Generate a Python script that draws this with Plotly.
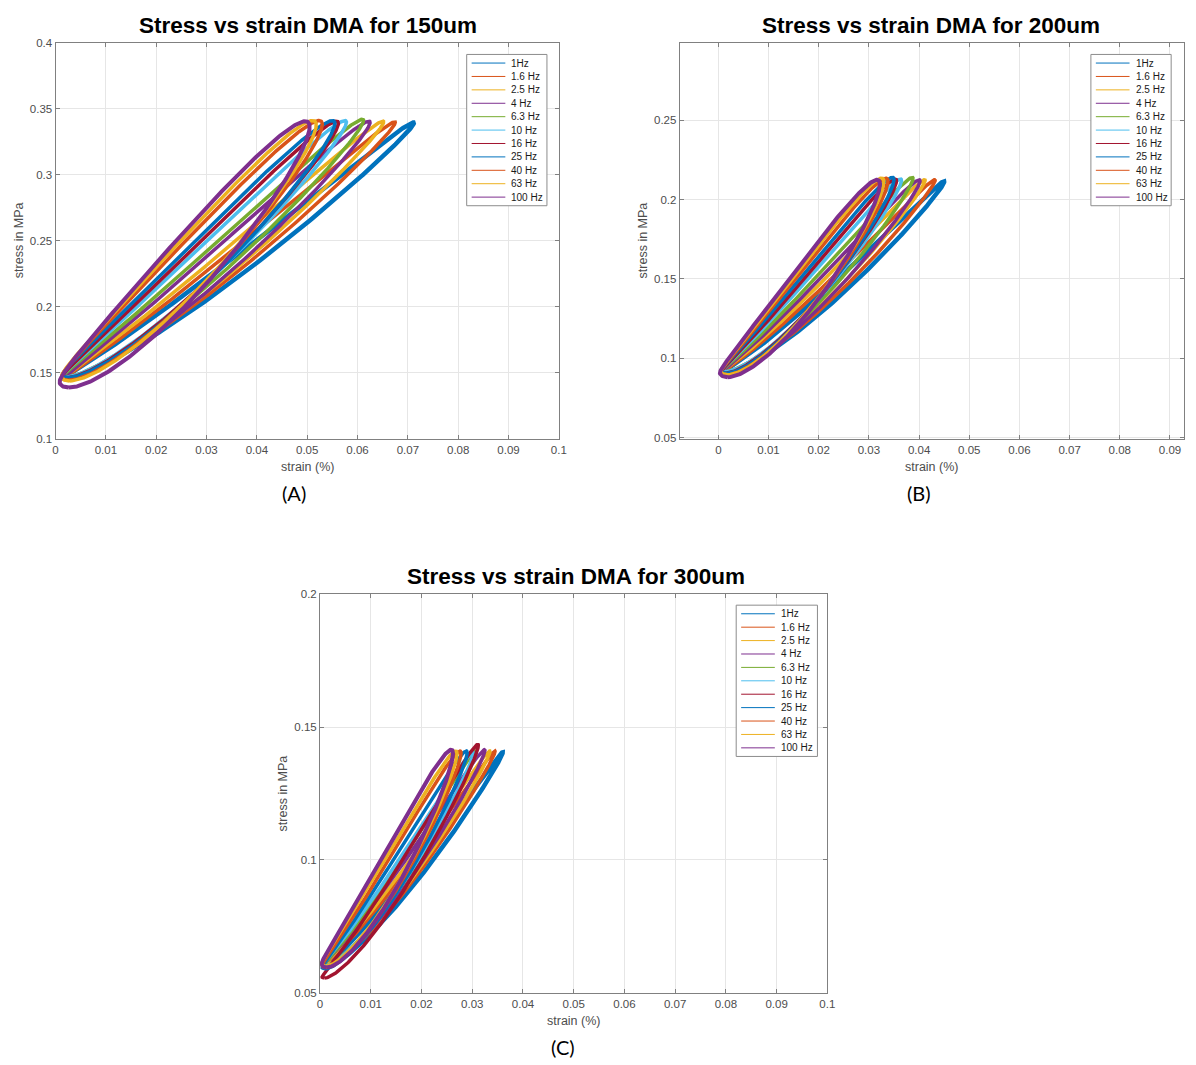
import numpy as np
import plotly.graph_objects as go

# ---------------- data ----------------
FREQS = ["1Hz", "1.6 Hz", "2.5 Hz", "4 Hz", "6.3 Hz", "10 Hz", "16 Hz",
         "25 Hz", "40 Hz", "63 Hz", "100 Hz"]
COLORS = ["#0072BD", "#D95319", "#EDB120", "#7E2F8E", "#77AC30", "#4DBEEE",
          "#A2142F", "#0072BD", "#D95319", "#EDB120", "#7E2F8E"]

# Panel A : 150 um  (loop extremes, phase lag in rad, branch curvature)
A_strain_min = [0.0015, 0.0020, 0.0020, 0.0018, 0.0016, 0.0015, 0.0015, 0.0014, 0.0012, 0.0012, 0.0008]
A_strain_max = [0.0712, 0.0675, 0.0652, 0.0625, 0.0612, 0.0578, 0.0562, 0.0555, 0.0530, 0.0518, 0.0505]
A_stress_min = [0.1455, 0.1460, 0.1465, 0.1450, 0.1470, 0.1470, 0.1465, 0.1465, 0.1445, 0.1440, 0.1390]
A_stress_max = [0.3395, 0.3400, 0.3405, 0.3405, 0.3420, 0.3410, 0.3405, 0.3410, 0.3410, 0.3410, 0.3405]
A_lag = [0.09, 0.10, 0.11, 0.14, 0.14, 0.16, 0.18, 0.21, 0.24, 0.26, 0.29]
A_curv = 0.85

# Panel B : 200 um
B_strain_min = [0.0008, 0.0010, 0.0010, 0.0008, 0.0008, 0.0008, 0.0006, 0.0006, 0.0005, 0.0005, 0.0003]
B_strain_max = [0.0450, 0.0432, 0.0412, 0.0402, 0.0388, 0.0365, 0.0355, 0.0350, 0.0338, 0.0330, 0.0322]
B_stress_min = [0.0905, 0.0910, 0.0915, 0.0905, 0.0915, 0.0915, 0.0905, 0.0905, 0.0895, 0.0895, 0.0880]
B_stress_max = [0.2115, 0.2125, 0.2125, 0.2125, 0.2140, 0.2130, 0.2130, 0.2140, 0.2135, 0.2135, 0.2125]
B_lag = [0.10, 0.11, 0.12, 0.15, 0.15, 0.17, 0.19, 0.22, 0.25, 0.27, 0.30]
B_curv = 0.80

# Panel C : 300 um
C_strain_min = [0.0008, 0.0008, 0.0008, 0.0006, 0.0006, 0.0005, 0.0004, 0.0004, 0.0004, 0.0003, 0.0003]
C_strain_max = [0.0360, 0.0345, 0.0335, 0.0325, 0.0308, 0.0302, 0.0312, 0.0290, 0.0278, 0.0270, 0.0262]
C_stress_min = [0.0595, 0.0600, 0.0605, 0.0600, 0.0600, 0.0600, 0.0555, 0.0590, 0.0595, 0.0600, 0.0595]
C_stress_max = [0.1405, 0.1410, 0.1410, 0.1415, 0.1410, 0.1405, 0.1435, 0.1410, 0.1410, 0.1410, 0.1415]
C_lag = [0.08, 0.09, 0.10, 0.12, 0.12, 0.14, 0.14, 0.18, 0.20, 0.22, 0.26]
C_curv = 0.80

# Tick values / labels
A_xticks = [0, 0.01, 0.02, 0.03, 0.04, 0.05, 0.06, 0.07, 0.08, 0.09, 0.1]
A_xlabels = ["0", "0.01", "0.02", "0.03", "0.04", "0.05", "0.06", "0.07", "0.08", "0.09", "0.1"]
A_yticks = [0.1, 0.15, 0.2, 0.25, 0.3, 0.35, 0.4]
A_ylabels = ["0.1", "0.15", "0.2", "0.25", "0.3", "0.35", "0.4"]
B_xticks = [0, 0.01, 0.02, 0.03, 0.04, 0.05, 0.06, 0.07, 0.08, 0.09]
B_xlabels = ["0", "0.01", "0.02", "0.03", "0.04", "0.05", "0.06", "0.07", "0.08", "0.09"]
B_yticks = [0.05, 0.1, 0.15, 0.2, 0.25]
B_ylabels = ["0.05", "0.1", "0.15", "0.2", "0.25"]
C_xticks = A_xticks
C_xlabels = A_xlabels
C_yticks = [0.05, 0.1, 0.15, 0.2]
C_ylabels = ["0.05", "0.1", "0.15", "0.2"]

TITLES = ["Stress vs strain DMA for 150um", "Stress vs strain DMA for 200um",
          "Stress vs strain DMA for 300um"]
CAPTIONS = ["(A)", "(B)", "(C)"]
XLABEL = "strain (%)"
YLABEL = "stress in MPa"

# ---------------- layout geometry (pixels) ----------------
W, H = 1196, 1065
PANELS = [
    dict(box=(53, 37, 561, 438), xr=[0, 0.1], yr=[0.1, 0.4], title_xy=(308, 20),
         cap_xy=(294, 493), xl_xy=(307, 466), yl_xy=(16, 237), leg=(468, 49, 549, 202)),
    dict(box=(683, 37, 1192, 438), xr=[-0.0077, 0.0928], yr=[0.049, 0.299], title_xy=(937, 20),
         cap_xy=(924, 493), xl_xy=(937, 466), yl_xy=(646, 237), leg=(1098, 49, 1179, 202)),
    dict(box=(320, 595, 832, 998), xr=[0, 0.1], yr=[0.05, 0.2], title_xy=(578, 577),
         cap_xy=(565, 1053), xl_xy=(576, 1027), yl_xy=(283, 796), leg=(740, 606, 822, 759)),
]
LINE_W = [4.5, 3.5, 3.5, 3.5, 3.5, 3.5, 3.5, 3.5, 3.5, 3.5, 4.0]


def px(x):
    return x / W


def py(y):
    return 1 - y / H


def loop(emin, emax, smin, smax, lag, curv, n=400):
    t = np.linspace(0, 2 * np.pi, n)
    stress = smin + (smax - smin) * (1 - np.cos(t)) / 2
    v = (1 - np.cos(t - lag)) / 2
    strain = emin + (emax - emin) * np.power(np.clip(v, 0, 1), curv)
    return strain, stress


DATA = [
    (A_strain_min, A_strain_max, A_stress_min, A_stress_max, A_lag, A_curv),
    (B_strain_min, B_strain_max, B_stress_min, B_stress_max, B_lag, B_curv),
    (C_strain_min, C_strain_max, C_stress_min, C_stress_max, C_lag, C_curv),
]
TICKS = [(A_xticks, A_xlabels, A_yticks, A_ylabels),
         (B_xticks, B_xlabels, B_yticks, B_ylabels),
         (C_xticks, C_xlabels, C_yticks, C_ylabels)]

fig = go.Figure()
shapes, annotations = [], []
TICKFONT = dict(family="Liberation Sans, Arial, sans-serif", size=11.5, color="#4d4d4d")
LABFONT = dict(family="Liberation Sans, Arial, sans-serif", size=12.5, color="#4d4d4d")

for k, (P, D, T) in enumerate(zip(PANELS, DATA, TICKS)):
    xa = "x" if k == 0 else f"x{k+1}"
    ya = "y" if k == 0 else f"y{k+1}"
    emin, emax, smin, smax, lag, curv = D
    for i, name in enumerate(FREQS):
        ex, sy = loop(emin[i], emax[i], smin[i], smax[i], lag[i], curv)
        fig.add_trace(go.Scatter(x=ex, y=sy, mode="lines", name=name,
                                 line=dict(color=COLORS[i], width=LINE_W[i]),
                                 xaxis=xa, yaxis=ya, showlegend=False,
                                 hoverinfo="skip"))
    x0, y0, x1, y1 = P["box"]
    common = dict(showgrid=True, gridcolor="#e6e6e6", gridwidth=1, zeroline=False,
                  showline=True, linecolor="#808080", linewidth=1, mirror="ticks",
                  ticks="inside", ticklen=4, tickcolor="#808080", tickfont=TICKFONT,
                  fixedrange=True)
    fig.layout[("xaxis" if k == 0 else f"xaxis{k+1}")] = dict(
        domain=[px(x0), px(x1)], range=P["xr"], tickvals=T[0], ticktext=T[1],
        anchor=ya, **common)
    fig.layout[("yaxis" if k == 0 else f"yaxis{k+1}")] = dict(
        domain=[py(y1), py(y0)], range=P["yr"], tickvals=T[2], ticktext=T[3],
        anchor=xa, **common)

    # texts
    tx, ty = P["title_xy"]
    annotations.append(dict(text=f"<b>{TITLES[k]}</b>", x=px(tx), y=py(ty), xref="paper",
                            yref="paper", showarrow=False, xanchor="center", yanchor="middle",
                            font=dict(family="Liberation Sans, Arial, sans-serif", size=22.5,
                                      color="#000000")))
    cx, cy = P["cap_xy"]
    annotations.append(dict(text=CAPTIONS[k], x=px(cx), y=py(cy), xref="paper", yref="paper",
                            showarrow=False, xanchor="center", yanchor="middle",
                            font=dict(family="Lato, Carlito, sans-serif", size=20, color="#000000")))
    lx, ly = P["xl_xy"]
    annotations.append(dict(text=XLABEL, x=px(lx), y=py(ly), xref="paper", yref="paper",
                            showarrow=False, xanchor="center", yanchor="middle", font=LABFONT))
    vx, vy = P["yl_xy"]
    annotations.append(dict(text=YLABEL, x=px(vx), y=py(vy), xref="paper", yref="paper",
                            showarrow=False, xanchor="center", yanchor="middle", textangle=-90,
                            font=LABFONT))

    # legend box (MATLAB style)
    bx0, by0, bx1, by1 = P["leg"]
    shapes.append(dict(type="rect", xref="paper", yref="paper", x0=px(bx0), x1=px(bx1),
                       y0=py(by1), y1=py(by0), line=dict(color="#8c8c8c", width=1),
                       fillcolor="white", layer="above"))
    step = (by1 - by0 - 17.4) / (len(FREQS) - 1)
    for i, name in enumerate(FREQS):
        rowy = by0 + 8.7 + i * step
        shapes.append(dict(type="line", xref="paper", yref="paper", x0=px(bx0 + 5),
                           x1=px(bx0 + 39), y0=py(rowy), y1=py(rowy),
                           line=dict(color=COLORS[i], width=1), layer="above"))
        annotations.append(dict(text=name, x=px(bx0 + 43), y=py(rowy), xref="paper",
                                yref="paper", showarrow=False, xanchor="left",
                                yanchor="middle",
                                font=dict(family="Liberation Sans, Arial, sans-serif",
                                          size=10, color="#1a1a1a")))

fig.update_layout(width=W, height=H, margin=dict(l=0, r=0, t=0, b=0),
                  paper_bgcolor="white", plot_bgcolor="white", showlegend=False,
                  shapes=shapes, annotations=annotations)
fig.write_html("out.html")
